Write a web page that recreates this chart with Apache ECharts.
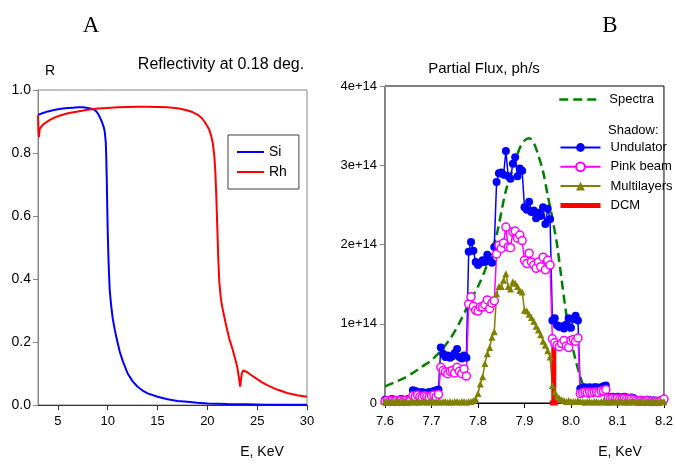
<!DOCTYPE html>
<html><head><meta charset="utf-8">
<script src="https://cdn.jsdelivr.net/npm/echarts@6/dist/echarts.min.js"></script>
<style>html,body{margin:0;padding:0;background:#fff}#c{width:676px;height:465px}</style>
</head><body><div id="c"></div><script>
// ---------- Panel A data ----------
const siEnergy = [3.0,3.5,4.0,4.5,5.0,5.5,6.0,6.5,7.0,7.5,8.0,8.5,8.8,9.0,9.2,9.4,9.6,9.7,9.8,9.85,9.9,9.95,10.0,10.05,10.1,10.15,10.2,10.3,10.4,10.5,10.7,10.9,11.2,11.5,12.0,12.5,13.0,13.5,14.0,15.0,16.0,17.0,18.0,19.0,20.0,22.0,24.0,26.0,28.0,30.0];
const siRefl   = [0.921,0.927,0.932,0.936,0.939,0.941,0.943,0.944,0.945,0.945,0.943,0.940,0.934,0.926,0.914,0.900,0.882,0.868,0.835,0.79,0.72,0.63,0.55,0.49,0.44,0.40,0.365,0.33,0.30,0.275,0.24,0.21,0.17,0.14,0.10,0.075,0.058,0.046,0.037,0.026,0.018,0.013,0.010,0.007,0.005,0.003,0.002,0.001,0.001,0.0005];
const rhEnergy = [3.0,3.05,3.1,3.15,3.2,3.3,3.5,3.8,4.2,4.7,5.3,6.0,7.0,8.0,9.0,10.0,11.0,12.0,13.0,14.0,15.0,16.0,17.0,17.5,18.0,18.5,19.0,19.4,19.7,20.0,20.2,20.4,20.55,20.7,20.8,20.9,21.0,21.1,21.2,21.35,21.5,21.7,21.9,22.2,22.5,22.8,23.0,23.15,23.3,23.45,23.6,24.0,24.5,25.0,25.5,26.0,27.0,28.0,29.0,30.0];
const rhRefl   = [0.92,0.87,0.85,0.875,0.872,0.882,0.89,0.897,0.905,0.913,0.92,0.926,0.932,0.937,0.941,0.943,0.945,0.946,0.947,0.947,0.946,0.945,0.942,0.939,0.935,0.93,0.922,0.912,0.90,0.885,0.873,0.852,0.83,0.79,0.74,0.66,0.56,0.46,0.39,0.34,0.31,0.28,0.25,0.21,0.18,0.145,0.12,0.09,0.058,0.10,0.11,0.104,0.093,0.082,0.072,0.063,0.049,0.038,0.031,0.026];
const xTicksA = [5,10,15,20,25,30];

// ---------- Panel B data (flux in units of 1e14 ph/s) ----------
const energyB = [
 7.600,7.605,7.610,7.615,7.620,7.625,7.630,7.635,7.640,7.645,7.650,7.655,
 7.660,7.665,7.670,7.675,7.680,7.685,7.690,7.695,7.700,7.705,7.710,7.715,
 7.720,7.725,7.730,7.735,7.740,7.745,7.750,7.755,7.760,7.765,7.770,7.775,
 7.780,7.785,7.790,7.795,7.800,7.805,7.810,7.815,7.820,7.825,7.830,7.835,
 7.840,7.845,7.850,7.855,7.860,7.865,7.870,7.875,7.880,7.885,7.890,7.895,
 7.900,7.905,7.910,7.915,7.920,7.925,7.930,7.935,7.940,7.945,7.950,7.955,
 7.960,7.965,7.970,7.975,7.980,7.985,7.990,7.995,8.000,8.005,8.010,8.015,
 8.020,8.025,8.030,8.035,8.040,8.045,8.050,8.055,8.060,8.065,8.070,8.075,
 8.080,8.085,8.090,8.095,8.100,8.105,8.110,8.115,8.120,8.125,8.130,8.135,
 8.140,8.145,8.150,8.155,8.160,8.165,8.170,8.175,8.180,8.185,8.190,8.195,8.200];
const undulator = [
 0.04,0.03,0.04,0.05,0.04,0.03,0.04,0.05,0.04,0.04,0.05,0.04,
 0.16,0.15,0.14,0.13,0.14,0.12,0.13,0.14,0.13,0.15,0.16,0.17,
 0.70,0.62,0.58,0.60,0.57,0.59,0.63,0.68,0.58,0.56,0.60,0.57,
 1.91,2.03,1.92,1.78,1.74,1.77,1.80,1.78,1.87,1.80,1.77,1.97,
 2.79,2.90,2.91,2.88,3.18,2.86,2.83,3.02,3.10,2.86,2.96,2.93,
 2.47,2.44,2.54,2.41,2.43,2.33,2.40,2.36,2.47,2.26,2.45,2.32,
 1.04,1.07,0.98,0.96,0.97,0.94,0.99,1.07,0.95,1.06,1.10,1.04,
 0.18,0.19,0.20,0.19,0.20,0.19,0.20,0.20,0.19,0.20,0.21,0.22,
 0.08,0.07,0.08,0.07,0.08,0.07,0.07,0.08,0.07,0.06,0.07,0.06,
 0.04,0.03,0.04,0.03,0.03,0.04,0.03,0.03,0.03,0.02,0.03,0.03,0.04];
const pinkBeam = [
 0.02,0.03,0.02,0.03,0.02,0.03,0.02,0.03,0.02,0.03,0.02,0.03,
 0.09,0.08,0.10,0.08,0.07,0.09,0.08,0.07,0.09,0.10,0.08,0.11,
 0.45,0.41,0.39,0.37,0.40,0.41,0.38,0.45,0.40,0.37,0.43,0.34,
 1.25,1.34,1.22,1.17,1.16,1.21,1.21,1.24,1.30,1.19,1.26,1.29,
 1.88,1.99,1.95,2.02,2.22,1.97,1.96,2.16,2.17,2.08,2.12,2.05,
 1.80,1.76,1.89,1.78,1.74,1.70,1.78,1.72,1.84,1.68,1.80,1.74,
 0.81,0.76,0.73,0.71,0.75,0.79,0.72,0.70,0.79,0.80,0.78,0.82,
 0.12,0.13,0.14,0.13,0.14,0.13,0.14,0.14,0.13,0.15,0.15,0.17,
 0.06,0.05,0.06,0.05,0.06,0.05,0.05,0.06,0.05,0.05,0.05,0.04,
 0.03,0.02,0.03,0.02,0.02,0.03,0.02,0.02,0.02,0.02,0.02,0.03,0.05];
const multilayers = [
 0.02,0.01,0.02,0.02,0.01,0.02,0.02,0.01,0.02,0.02,0.01,0.02,
 0.02,0.01,0.02,0.01,0.02,0.02,0.01,0.02,0.02,0.01,0.02,0.02,
 0.01,0.02,0.02,0.01,0.02,0.01,0.02,0.02,0.01,0.02,0.02,0.01,
 0.02,0.02,0.03,0.05,0.12,0.24,0.33,0.50,0.62,0.70,0.83,0.90,
 1.38,1.47,1.47,1.55,1.63,1.47,1.44,1.53,1.51,1.47,1.42,1.40,
 1.17,1.16,1.12,1.08,1.03,0.97,0.92,0.86,0.78,0.73,0.66,0.58,
 0.22,0.14,0.09,0.06,0.04,0.03,0.02,0.03,0.02,0.02,0.02,0.03,
 0.02,0.02,0.01,0.02,0.02,0.01,0.02,0.02,0.01,0.02,0.02,0.01,
 0.02,0.01,0.02,0.02,0.01,0.02,0.02,0.01,0.02,0.01,0.02,0.02,
 0.01,0.02,0.02,0.01,0.02,0.01,0.02,0.02,0.01,0.02,0.01,0.02,0.02];
const spectraEnergy = [7.60,7.62,7.64,7.66,7.68,7.70,7.72,7.74,7.76,7.78,7.80,7.82,7.84,7.86,7.88,7.89,7.90,7.91,7.92,7.93,7.94,7.95,7.96,7.97,7.98,7.99,8.00,8.01,8.02,8.03,8.04,8.05];
const spectra       = [0.21,0.26,0.31,0.38,0.46,0.54,0.66,0.81,1.01,1.25,1.47,1.75,2.12,2.68,3.04,3.22,3.31,3.34,3.28,3.12,2.92,2.62,2.33,2.00,1.55,1.12,0.80,0.54,0.33,0.17,0.07,0.02];
const dcmEnergy = [7.963, 7.963];
const dcmFlux   = [0, 0.83];
const xTicksB = [7.6,7.7,7.8,7.9,8.0,8.1,8.2];

// ---------- chart ----------
const FONT = '"Liberation Sans", Arial, Helvetica, sans-serif';
const pairs = (xs, ys) => xs.map((x, i) => [x, ys[i]]);
const noMarker = {color: 'rgba(0,0,0,0)', borderWidth: 0, opacity: 0};
const chart = echarts.init(document.getElementById('c'), null, {renderer: 'canvas'});

const txt = (text, x, y, size, align, family) => ({
  type: 'text', x: x, y: y, silent: true,
  style: {text: text, fill: '#000', font: size + 'px ' + (family || FONT), align: align || 'center', verticalAlign: 'middle'}
});

chart.setOption({
  animation: false,
  backgroundColor: '#fff',
  textStyle: {fontFamily: FONT},
  grid: [
    {left: 38, top: 90, width: 269, height: 315, show: true, borderColor: '#888', borderWidth: 1, backgroundColor: 'transparent'},
    {left: 385, top: 86, width: 281, height: 317, show: true, borderColor: '#000', borderWidth: 1, backgroundColor: 'transparent'}
  ],
  xAxis: [
    {gridIndex: 0, type: 'value', min: 3, max: 30,
     axisLine: {onZero: false, lineStyle: {color: '#333', width: 1}},
     axisTick: {customValues: xTicksA, length: 5, lineStyle: {color: '#333'}},
     axisLabel: {customValues: xTicksA, margin: 10, color: '#000', fontSize: 13, fontFamily: FONT},
     splitLine: {show: false}},
    {gridIndex: 1, type: 'value', min: 7.6, max: 8.2,
     axisLine: {onZero: false, lineStyle: {color: '#000', width: 1}},
     axisTick: {customValues: xTicksB, length: 5, lineStyle: {color: '#000'}},
     axisLabel: {customValues: xTicksB, margin: 12, color: '#000', fontSize: 13, fontFamily: FONT, formatter: v => Number(v).toFixed(1)},
     splitLine: {show: false}}
  ],
  yAxis: [
    {gridIndex: 0, type: 'value', min: 0, max: 1, interval: 0.2,
     axisLine: {show: true, onZero: false, lineStyle: {color: '#888', width: 1}},
     axisTick: {show: true, length: 5, lineStyle: {color: '#888'}},
     axisLabel: {margin: 7, color: '#000', fontSize: 14, fontFamily: FONT, formatter: v => Number(v).toFixed(1)},
     splitLine: {show: false}},
    {gridIndex: 1, type: 'value', min: 0, max: 4, interval: 1,
     axisLine: {show: true, onZero: false, lineStyle: {color: '#888', width: 1}},
     axisTick: {show: true, length: 5, lineStyle: {color: '#888'}},
     axisLabel: {margin: 8, color: '#000', fontSize: 13, fontFamily: FONT, formatter: v => v === 0 ? '0' : v + 'e+14'},
     splitLine: {show: false}}
  ],
  legend: [
    {id: 'la', left: 228, top: 135, orient: 'vertical',
     data: [{name: 'Si', itemStyle: noMarker}, {name: 'Rh', itemStyle: noMarker}],
     itemWidth: 27, itemHeight: 14, itemGap: 6, padding: [10, 12, 10, 8],
     lineStyle: {width: 2},
     borderColor: '#404040', borderWidth: 1, backgroundColor: '#fff',
     textStyle: {fontSize: 14, color: '#000', fontFamily: FONT}},
    {id: 'lb1', left: 558, top: 93, data: [{name: 'Spectra', itemStyle: noMarker}], itemWidth: 40, itemHeight: 14, padding: 0,
     lineStyle: {type: [9, 5], width: 2.5},
     textStyle: {fontSize: 13, color: '#000', fontFamily: FONT, padding: [0, 0, 0, 5]}},
    {id: 'lb2', left: 558, top: 141, orient: 'vertical',
     data: [{name: 'Undulator', lineStyle: {width: 2}}, {name: 'Pink beam', lineStyle: {width: 2}},
            {name: 'Multilayers', lineStyle: {width: 2}}, {name: 'DCM', itemStyle: noMarker, lineStyle: {width: 5}}],
     itemWidth: 40, itemHeight: 11, itemGap: 6.3, padding: 0,
     textStyle: {fontSize: 13, color: '#000', fontFamily: FONT, padding: [0, 0, 0, 5]}}
  ],
  graphic: [
    txt('A', 91, 26, 23, 'center', '"Liberation Serif", "Times New Roman", serif'),
    txt('B', 610, 26, 23, 'center', '"Liberation Serif", "Times New Roman", serif'),
    txt('Reflectivity at 0.18 deg.', 221, 65, 16),
    txt('R', 50, 71, 14),
    txt('Partial Flux, ph/s', 484, 69, 15),
    txt('E, KeV', 262, 452, 14),
    txt('E, KeV', 620, 452, 14),
    txt('Shadow:', 608, 130, 13, 'left')
  ],
  series: [
    {name: 'Si', type: 'line', xAxisIndex: 0, yAxisIndex: 0, data: pairs(siEnergy, siRefl),
     symbol: 'none', lineStyle: {color: '#0000ff', width: 2}, itemStyle: {color: '#0000ff'}},
    {name: 'Rh', type: 'line', xAxisIndex: 0, yAxisIndex: 0, data: pairs(rhEnergy, rhRefl),
     symbol: 'none', lineStyle: {color: '#ff0000', width: 2}, itemStyle: {color: '#ff0000'}},
    {name: 'Spectra', type: 'line', xAxisIndex: 1, yAxisIndex: 1, data: pairs(spectraEnergy, spectra),
     symbol: 'none', smooth: 0.3, lineStyle: {color: '#008000', width: 2.5, type: [9, 5]}, itemStyle: {color: '#008000'}},
    {name: 'Undulator', type: 'line', xAxisIndex: 1, yAxisIndex: 1, data: pairs(energyB, undulator),
     symbol: 'circle', symbolSize: 8, showAllSymbol: true,
     lineStyle: {color: '#0000ff', width: 1.5}, itemStyle: {color: '#0000ff'}},
    {name: 'Pink beam', type: 'line', xAxisIndex: 1, yAxisIndex: 1, data: pairs(energyB, pinkBeam),
     symbol: 'circle', symbolSize: 8, showAllSymbol: true,
     lineStyle: {color: '#ff00ff', width: 1.5}, itemStyle: {color: '#fff', borderColor: '#ff00ff', borderWidth: 1.5}},
    {name: 'Multilayers', type: 'line', xAxisIndex: 1, yAxisIndex: 1, data: pairs(energyB, multilayers),
     symbol: 'triangle', symbolSize: 7, showAllSymbol: true,
     lineStyle: {color: '#808000', width: 1.5}, itemStyle: {color: '#808000'}},
    {name: 'DCM', type: 'line', xAxisIndex: 1, yAxisIndex: 1,
     data: [{value: [dcmEnergy[0], dcmFlux[0]], symbol: 'rect', symbolSize: [8, 5]},
            {value: [dcmEnergy[1], dcmFlux[1]], symbol: 'none'}],
     symbol: 'none', lineStyle: {color: '#ff0000', width: 5}, itemStyle: {color: '#ff0000'}}
  ]
});
</script></body></html>
